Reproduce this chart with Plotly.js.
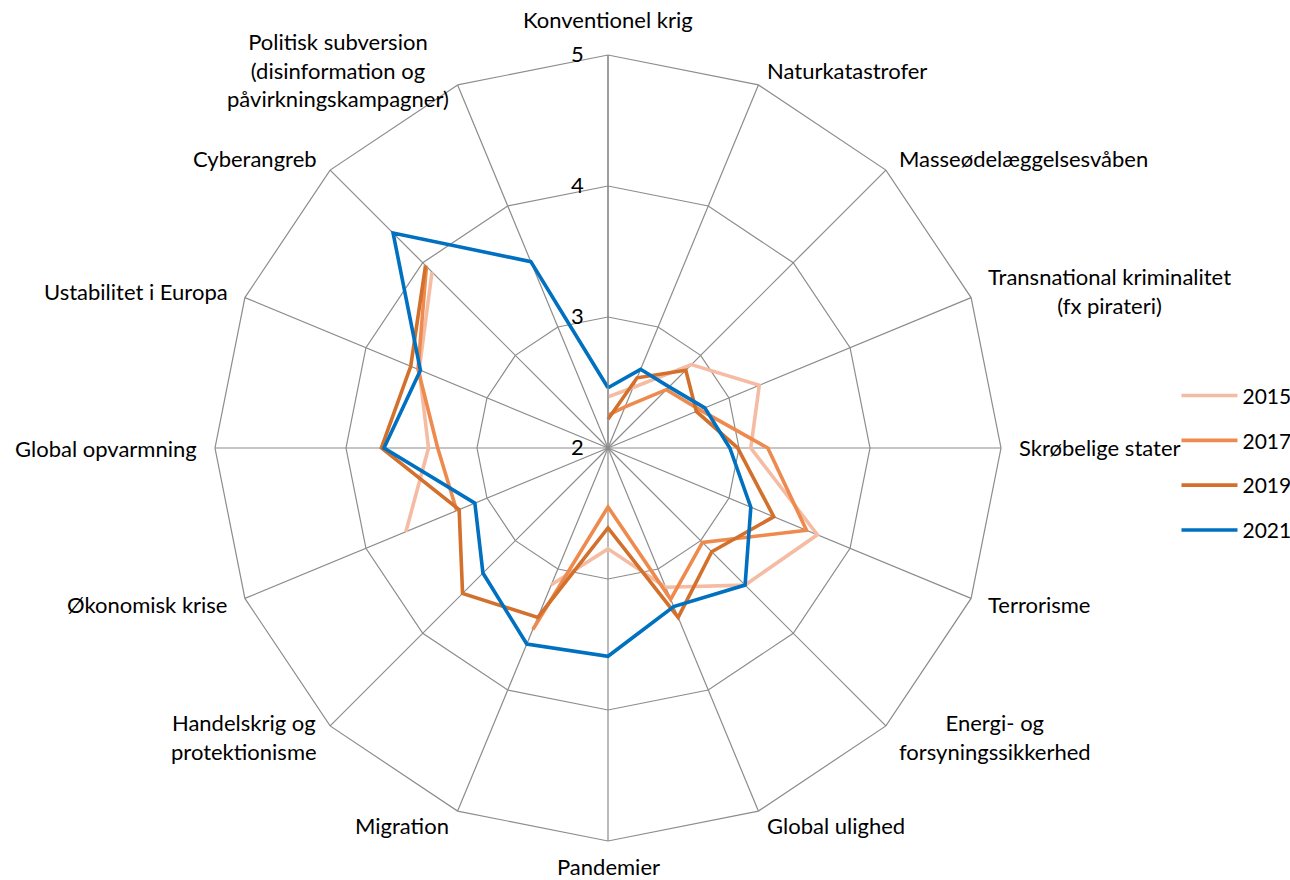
<!DOCTYPE html>
<html>
<head>
<meta charset="utf-8">
<script src="https://cdn.plot.ly/plotly-3.0.1.min.js"></script>
<style>
html,body{margin:0;padding:0;background:#fff;}
#chart{width:1290px;height:880px;}
</style>
</head>
<body>
<div id="chart"></div>
<script>
const categories = [
  "Konventionel krig",
  "Naturkatastrofer",
  "Masseødelæggelsesvåben",
  "Transnational kriminalitet<br>(fx pirateri)",
  "Skrøbelige stater",
  "Terrorisme",
  "Energi- og<br>forsyningssikkerhed",
  "Global ulighed",
  "Pandemier",
  "Migration",
  "Handelskrig og<br>protektionisme",
  "Økonomisk krise",
  "Global opvarmning",
  "Ustabilitet i Europa",
  "Cyberangreb",
  "Politisk subversion<br>(disinformation og<br>påvirkningskampagner)"
];

const seriesNames = ["2015", "2017", "2019", "2021"];

const values2015 = [2.39, 2.50, 2.90, 3.25, 3.09, 3.73, 3.48, 3.15, 2.77, 3.13, null, 3.67, 3.37, 3.56, 3.90, null];
const values2017 = [2.25, 2.34, 2.63, 2.76, 3.22, 3.64, 3.02, 3.25, 2.45, 3.50, null, 3.25, 3.30, 3.57, 3.96, null];
const values2019 = [2.22, 2.58, 2.84, 2.73, 2.99, 3.37, 3.12, 3.40, 2.61, 3.40, 3.57, 3.23, 3.73, 3.63, 3.97, null];
const values2021 = [2.46, 2.65, 2.66, 2.80, 2.93, 3.18, 3.48, 3.31, 3.59, 3.62, 3.35, 3.10, 3.71, 3.55, 4.32, 3.54];

const radialTicks = [2, 3, 4, 5];

const colors = ["#F5BCA3", "#EE8A4E", "#D2702C", "#0070C0"];
const allValues = [values2015, values2017, values2019, values2021];

const FONT = "Lato, 'Open Sans', sans-serif";
const W = 1290, H = 880;
// polar plotting box in pixels
const box = {left: 215, right: 1001, top: 55, bottom: 841};
const cx = (box.left + box.right) / 2;
const cy = (box.top + box.bottom) / 2;
const R = (box.right - box.left) / 2;

const traces = allValues.map((vals, i) => ({
  type: "scatterpolar",
  mode: "lines",
  name: seriesNames[i],
  legendgroup: "g" + i,
  r: vals.concat([vals[0]]),
  theta: categories.concat([categories[0]]),
  connectgaps: false,
  line: {color: colors[i], width: 3.6},
  hoverinfo: "skip"
}));

// category labels placed just outside the outer polygon, centred multi-line text
const n = categories.length;
const annotations = categories.map((txt, k) => {
  const a = k * 2 * Math.PI / n;
  const s = Math.sin(a), c = Math.cos(a);
  let g = 16;
  if (k === 0) g = 20;
  if (k === n / 2) g = 10;
  const px = cx + (R + g) * s;
  const py = cy - (R + g) * c;
  return {
    xref: "paper", yref: "paper",
    x: px / W, y: 1 - py / H,
    text: txt,
    showarrow: false,
    align: "center",
    xanchor: s > 0.1 ? "left" : (s < -0.1 ? "right" : "center"),
    yanchor: k === 0 ? "bottom" : (k === n / 2 ? "top" : "middle"),
    font: {family: FONT, size: 22, color: "#000000"}
  };
});

const layout = {
  width: W,
  height: H,
  margin: {l: 0, r: 0, t: 0, b: 0, pad: 0, autoexpand: false},
  paper_bgcolor: "#ffffff",
  font: {family: FONT, size: 22, color: "#000000"},
  showlegend: true,
  legend: {
    x: 0.912, xanchor: "left",
    y: 0.474, yanchor: "middle",
    font: {family: FONT, size: 21, color: "#000000"},
    tracegroupgap: 14.5,
    itemwidth: 56,
    bgcolor: "rgba(0,0,0,0)"
  },
  annotations: annotations,
  polar: {
    domain: {x: [box.left / W, box.right / W], y: [1 - box.bottom / H, 1 - box.top / H]},
    bgcolor: "#ffffff",
    gridshape: "linear",
    radialaxis: {
      range: [2, 5],
      tickvals: radialTicks,
      ticktext: radialTicks.map(String),
      angle: 90,
      tickangle: 90,
      side: "counterclockwise",
      showline: true,
      linecolor: "#8c8c8c",
      linewidth: 1.2,
      gridcolor: "#8c8c8c",
      gridwidth: 1.2,
      ticks: "outside",
      ticklen: 16,
      tickcolor: "rgba(0,0,0,0)",
      tickfont: {family: FONT, size: 22, color: "#000000"}
    },
    angularaxis: {
      type: "category",
      categoryorder: "array",
      categoryarray: categories,
      direction: "clockwise",
      rotation: 90,
      showline: true,
      linecolor: "#8c8c8c",
      linewidth: 1.2,
      gridcolor: "#8c8c8c",
      gridwidth: 1.2,
      ticks: "",
      showticklabels: false
    }
  }
};

Plotly.newPlot("chart", traces, layout, {displayModeBar: false, staticPlot: true});
</script>
</body>
</html>
